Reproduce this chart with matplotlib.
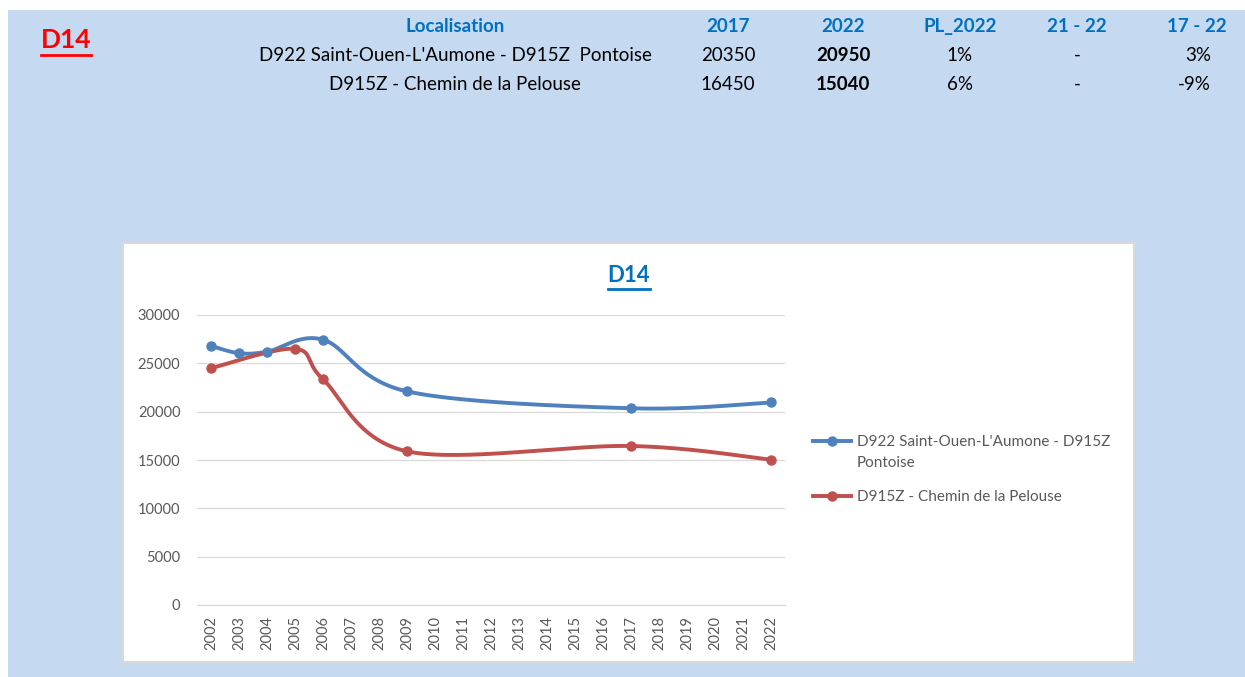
import matplotlib
matplotlib.use('Agg')
import matplotlib.pyplot as plt
from matplotlib.patches import Rectangle
from matplotlib.lines import Line2D
import numpy as np

plt.rcParams['font.family'] = ['Lato', 'DejaVu Sans']

# data
years = ['2002', '2003', '2004', '2005', '2006', '2007', '2008', '2009', '2010', '2011',
         '2012', '2013', '2014', '2015', '2016', '2017', '2018', '2019', '2020', '2021', '2022']
blue_years = ['2002', '2003', '2004', '2006', '2009', '2017', '2022']
blue_vals = [26800, 26050, 26200, 27450, 22100, 20350, 20950]
red_years = ['2002', '2005', '2006', '2009', '2017', '2022']
red_vals = [24500, 26500, 23350, 15900, 16450, 15040]
blue_name = "D922 Saint-Ouen-L'Aumone - D915Z"
blue_name2 = "Pontoise"
red_name = "D915Z - Chemin de la Pelouse"

table_head = ['Localisation', '2017', '2022', 'PL_2022', '21 - 22', '17 - 22']
table_rows = [
    ["D922 Saint-Ouen-L'Aumone - D915Z  Pontoise", '20350', '20950', '1%', '-', '3%'],
    ['D915Z - Chemin de la Pelouse', '16450', '15040', '6%', '-', '-9%'],
]

W, H = 1245, 677
BLUE = '#4F81BD'
RED = '#C0504D'
HEAD = '#0070C0'
GREY = '#595959'


def px(x, y):
    return x / W, 1 - y / H


def smooth(xs, ys, n=40):
    # Excel-like smoothed line (Catmull-Rom as cubic Bezier)
    p = np.column_stack([xs, ys]).astype(float)
    out = []
    t = np.linspace(0, 1, n)[:, None]
    for i in range(len(p) - 1):
        p0 = p[max(i - 1, 0)]
        p1 = p[i]
        p2 = p[i + 1]
        p3 = p[min(i + 2, len(p) - 1)]
        c1 = p1 + (p2 - p0) / 6
        c2 = p2 - (p3 - p1) / 6
        seg = (1 - t) ** 3 * p1 + 3 * (1 - t) ** 2 * t * c1 + 3 * (1 - t) * t ** 2 * c2 + t ** 3 * p2
        out.append(seg if i == 0 else seg[1:])
    s = np.vstack(out)
    return s[:, 0], s[:, 1]


fig = plt.figure(figsize=(W / 100, H / 100), dpi=100)
fig.patch.set_facecolor('white')

# backgrounds
fig.add_artist(Rectangle(px(8, 677), (W - 8) / W, (677 - 10) / H, transform=fig.transFigure,
                         facecolor='#C5D9F1', edgecolor='none', zorder=-2))
fig.add_artist(Rectangle(px(123, 662), (1134 - 123) / W, (662 - 243) / H, transform=fig.transFigure,
                         facecolor='white', edgecolor='#D9D9D9', linewidth=1.5, zorder=-1))

# header table
col_x = [455, 728, 843, 960, 1077, 1197]
for j, h in enumerate(table_head):
    x, y = px(col_x[j], 32)
    fig.text(x, y, h, color=HEAD, fontsize=13.5, fontweight='bold', ha='center', va='baseline')
for i, row in enumerate(table_rows):
    yy = 61 + i * 29
    for j, v in enumerate(row):
        if j == 5:
            x, y = px(1211, yy)
            fig.text(x, y, v, fontsize=13.5, ha='right', va='baseline')
        else:
            x, y = px(col_x[j], yy)
            fig.text(x, y, v, fontsize=13.5, ha='center', va='baseline',
                     fontweight='bold' if j == 2 else 'normal')

x, y = px(66, 40)
t_d14 = fig.text(x, y, 'D14', color='#FF0000', fontsize=19, fontweight='bold', ha='center', va='center')
x, y = px(629, 276)
t_title = fig.text(x, y, 'D14', color=HEAD, fontsize=16, fontweight='bold', ha='center', va='center')

# chart
l, b = px(197, 605)
r, tp = px(785, 315)
ax = fig.add_axes([l, b, r - l, tp - b])
idx = {y: i for i, y in enumerate(years)}

bx = [idx[y] for y in blue_years]
rx = [idx[y] for y in red_years]
sx, sy = smooth(bx, blue_vals)
ax.plot(sx, sy, color=BLUE, lw=2.8, solid_capstyle='round', zorder=3)
ax.plot(bx, blue_vals, 'o', color=BLUE, ms=6.5, zorder=4)
sx, sy = smooth(rx, red_vals)
ax.plot(sx, sy, color=RED, lw=2.8, solid_capstyle='round', zorder=3)
ax.plot(rx, red_vals, 'o', color=RED, ms=6.5, zorder=4)

ax.set_xlim(-0.5, len(years) - 0.5)
ax.set_ylim(0, 30000)
ax.set_yticks(range(0, 30001, 5000))
ax.set_xticks(range(len(years)))
ax.set_xticklabels(years, rotation=90)
ax.tick_params(axis='both', length=0, colors=GREY, labelsize=10.5)
ax.tick_params(axis='y', pad=12)
ax.tick_params(axis='x', pad=8)
ax.grid(axis='y', color='#D9D9D9', lw=0.9)
ax.set_axisbelow(True)
for s in ['top', 'right', 'left']:
    ax.spines[s].set_visible(False)
ax.spines['bottom'].set_color('#D9D9D9')
ax.patch.set_alpha(0)

handles = [Line2D([], [], color=BLUE, lw=2.8, marker='o', ms=6.5),
           Line2D([], [], color=RED, lw=2.8, marker='o', ms=6.5)]
leg = fig.legend(handles, [blue_name, red_name], loc='upper left', bbox_to_anchor=px(813, 435),
                 frameon=False, fontsize=11, labelcolor=GREY, handlelength=2.5,
                 handletextpad=0.35, labelspacing=2.7, borderpad=0, borderaxespad=0)

fig.canvas.draw()
rend = fig.canvas.get_renderer()
inv = fig.transFigure.inverted()

# second line of the blue legend label
bb = leg.get_texts()[0].get_window_extent(rend)
x0, y0 = inv.transform((bb.x0, bb.y0))
fig.text(x0, y0 - 7 / H, blue_name2, color=GREY, fontsize=11, ha='left', va='top')

# underlines
for t, c, off in [(t_d14, '#FF0000', 3), (t_title, HEAD, 3)]:
    bb = t.get_window_extent(rend)
    a = inv.transform((bb.x0, bb.y0 - off))
    z = inv.transform((bb.x1, bb.y0 - off))
    fig.add_artist(Line2D([a[0], z[0]], [a[1], z[1]], color=c, lw=2, transform=fig.transFigure))

fig.savefig('out.png', dpi=100)
